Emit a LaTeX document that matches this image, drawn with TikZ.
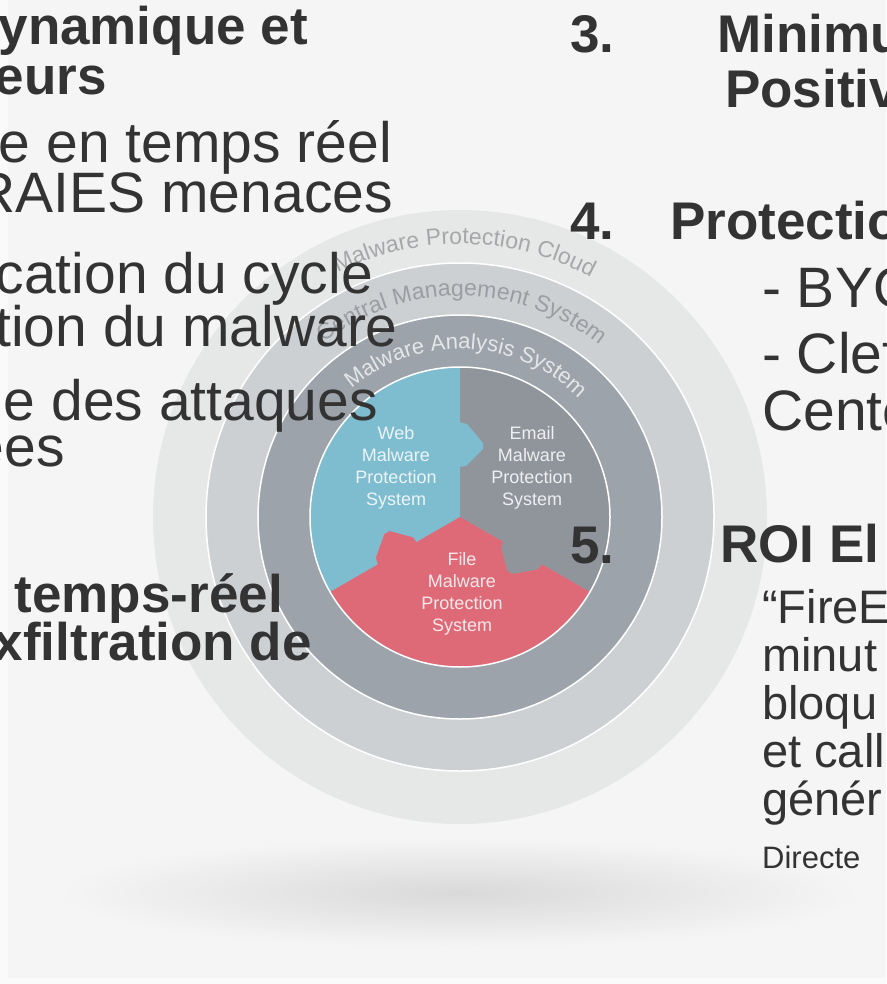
\documentclass[tikz,border=0pt]{standalone}
\usepackage{fontspec}
\setmainfont{Liberation Sans}
\usetikzlibrary{decorations.text}
\definecolor{slidebg}{HTML}{F5F5F5}
\definecolor{edgebg}{HTML}{FAFAFA}
\definecolor{shadowgrey}{HTML}{D9D9D9}
\definecolor{cloudring}{HTML}{E6E7E7}
\definecolor{cmsring}{HTML}{CDD0D3}
\definecolor{masring}{HTML}{9DA3AA}
\definecolor{webblue}{HTML}{7EBCCF}
\definecolor{emailgrey}{HTML}{90959C}
\definecolor{filered}{HTML}{DF6A77}
\definecolor{ink}{HTML}{333333}
\definecolor{cloudtxt}{HTML}{A5A7A9}
\definecolor{cmstxt}{HTML}{9A9EA2}
\definecolor{mastxt}{HTML}{E4E6E8}
\newcommand{\px}[1]{\fontsize{#1}{#1}\selectfont}

\begin{document}
\begin{tikzpicture}[x=1pt, y=1pt,
    every node/.style={inner sep=0pt, text=ink},
    head/.style={font=\px{53}\bfseries},
    body/.style={font=\px{57}},
    quote/.style={font=\px{47}},
    cut/.style={anchor=base east},
    lead/.style={anchor=base west},
    pielabel/.style={font=\fontsize{18}{22}\selectfont, align=center, text=white, text opacity=0.85}]
    \useasboundingbox (0,0) rectangle (886,-984);
    \clip (0,0) rectangle (886,-984);
    \fill[edgebg] (0,0) rectangle (886,-984);
    \fill[slidebg] (8,0) rectangle (886,-978);
    \shade[inner color=shadowgrey, outer color=slidebg] (460,-893) ellipse [x radius=400, y radius=55];

    \coordinate (c) at (460,-517);
    \fill[cloudring] (c) circle[radius=307];
    \fill[cmsring] (c) circle[radius=254];
    \fill[masring] (c) circle[radius=202];
    \draw[white, line width=1.5pt] (c) circle[radius=254] (c) circle[radius=202];

    \fill[webblue] (c) -- ([shift={(90:150)}]c) arc[start angle=90, end angle=210, radius=150] -- cycle;
    \fill[emailgrey] (c) -- ([shift={(-30:150)}]c) arc[start angle=-30, end angle=90, radius=150] -- cycle;
    \fill[filered] (c) -- ([shift={(210:150)}]c) arc[start angle=210, end angle=330, radius=150] -- cycle;
    \foreach \a/\col in {90/webblue, 210/filered, 330/emailgrey}
        \fill[\col, shift={(c)}, rotate=\a] (50,1) -- (51,-6) -- (68,-23) -- (74,-23) -- (93,-7) -- (95,1) -- cycle;
    \draw[white, line width=1.5pt] (c) circle[radius=150];

    \path[decorate, decoration={text along path, text align=center, text color=cloudtxt,
        text={|\px{23}|Malware Protection Cloud}}]
        ([shift={(150:273)}]c) arc[start angle=150, end angle=28, radius=273];
    \path[decorate, decoration={text along path, text align=center, text color=cmstxt,
        text={|\px{23}|Central Management System}}]
        ([shift={(150:221)}]c) arc[start angle=150, end angle=29, radius=221];
    \path[decorate, decoration={text along path, text align=center, text color=mastxt,
        text={|\px{22}|Malware Analysis System}}]
        ([shift={(150:168)}]c) arc[start angle=150, end angle=25, radius=168];

    \node[pielabel] (web) at (396,-468) {Web\\Malware\\Protection\\System};
    \node[pielabel] (email) at (532,-468) {Email\\Malware\\Protection\\System};
    \node[pielabel] (file) at (462,-594) {File\\Malware\\Protection\\System};

    \node[head, cut] (dyn) at (308,-45) {ynamique et};
    \node[head, cut] (eurs) at (107,-95) {eurs};
    \node[body, cut] (reel) at (392,-163) {e en temps réel};
    \node[body, cut] (vraies) at (393,-213) {RAIES menaces};
    \node[body, cut] (cycle) at (373,-293) {cation du cycle};
    \node[body, cut] (malw) at (398,-346) {tion du malware};
    \node[body, cut] (attq) at (378,-420) {e des attaques};
    \node[body, cut] (ees) at (65,-466) {ees};
    \node[head, cut] (tpsreel) at (283,-612) {temps-réel};
    \node[head, cut] (exfil) at (312,-660) {xfiltration de};

    \node[head, lead] (n3) at (570,-53) {3.};
    \node[head, lead] (mini) at (717,-53) {Minimu};
    \node[head, lead] (posit) at (725,-108) {Positiv};
    \node[head, lead] (n4) at (570,-240) {4.};
    \node[head, lead] (prot) at (670,-240) {Protectio};
    \node[body, lead] (byo) at (762,-307) {- BYO};
    \node[body, lead] (clef) at (762,-373) {- Clef};
    \node[body, lead] (cent) at (762,-430) {Cente};
    \node[head, lead] (n5) at (570,-563) {5.};
    \node[head, lead] (roi) at (720,-562) {ROI El};
    \node[quote, lead] (q1) at (762,-623) {“FireE};
    \node[quote, lead] (q2) at (762,-671) {minut};
    \node[quote, lead] (q3) at (762,-719) {bloqu};
    \node[quote, lead] (q4) at (762,-767) {et call};
    \node[quote, lead] (q5) at (762,-815) {génér};
    \node[font=\px{31}, lead] (src) at (762,-868) {Directe};
\end{tikzpicture}
\end{document}
